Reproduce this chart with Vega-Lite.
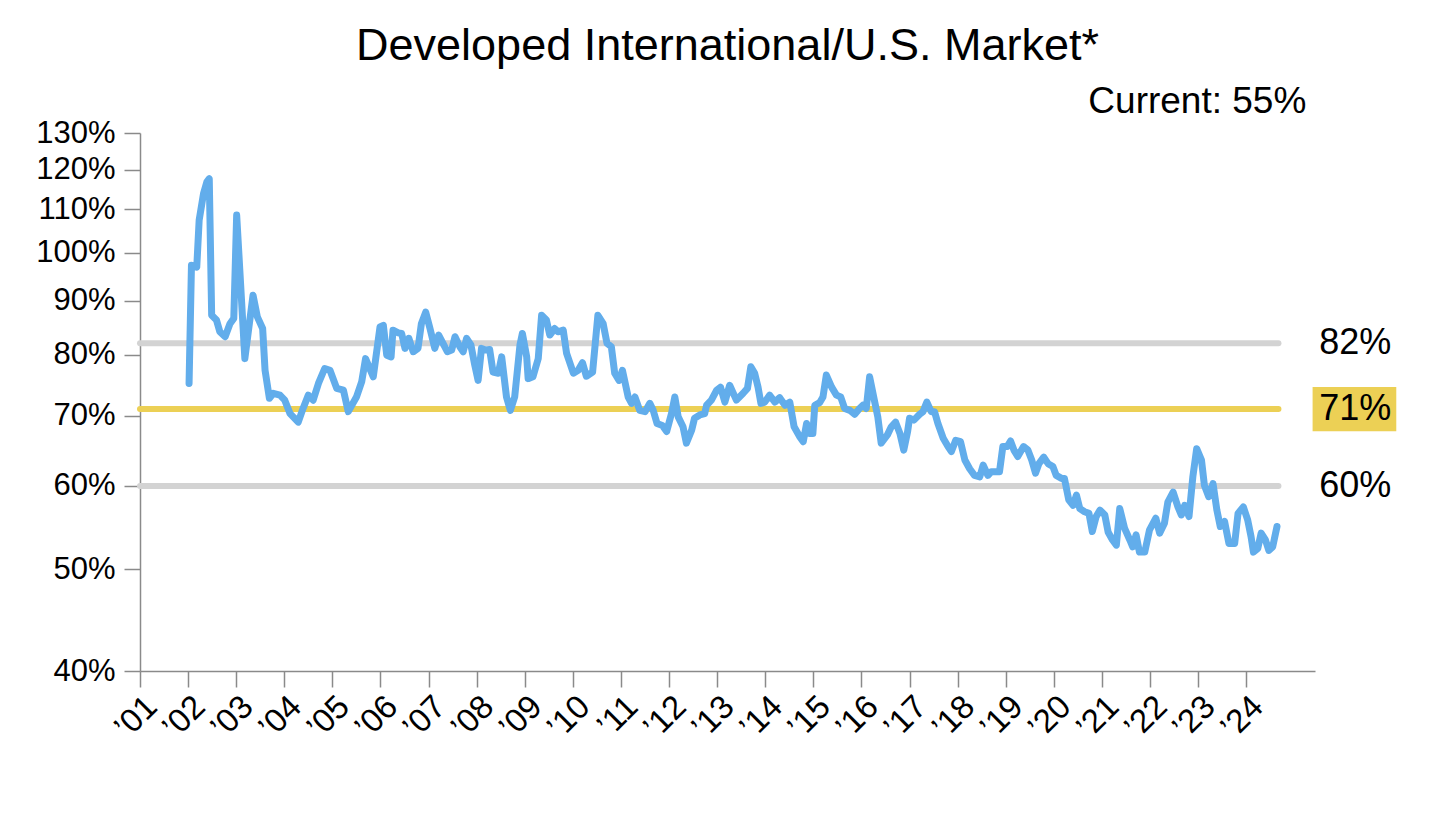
{
  "$schema": "https://vega.github.io/schema/vega-lite/v6.json",
  "width": 1175,
  "height": 538,
  "autosize": {"type": "none"},
  "padding": {"left": 140, "top": 133, "right": 127, "bottom": 145},
  "background": "white",
  "title": {
    "text": "Developed International/U.S. Market*",
    "fontSize": 45,
    "fontWeight": "normal",
    "font": "Liberation Sans",
    "color": "black",
    "anchor": "middle",
    "frame": "group",
    "baseline": "alphabetic",
    "offset": -22
  },
  "config": {"view": {"stroke": null}, "font": "Liberation Sans"},
  "datasets": {
    "series": [
      {"year": 2002.02, "ratio": 0.751}, {"year": 2002.07, "ratio": 0.973}, {"year": 2002.18, "ratio": 0.969},
      {"year": 2002.23, "ratio": 1.074}, {"year": 2002.32, "ratio": 1.138}, {"year": 2002.39, "ratio": 1.168},
      {"year": 2002.44, "ratio": 1.176}, {"year": 2002.49, "ratio": 0.872}, {"year": 2002.59, "ratio": 0.863},
      {"year": 2002.66, "ratio": 0.841}, {"year": 2002.77, "ratio": 0.832}, {"year": 2002.87, "ratio": 0.856},
      {"year": 2002.95, "ratio": 0.866}, {"year": 2003.01, "ratio": 1.086}, {"year": 2003.18, "ratio": 0.793},
      {"year": 2003.35, "ratio": 0.911}, {"year": 2003.44, "ratio": 0.869}, {"year": 2003.55, "ratio": 0.847},
      {"year": 2003.60, "ratio": 0.773}, {"year": 2003.69, "ratio": 0.727}, {"year": 2003.77, "ratio": 0.735},
      {"year": 2003.91, "ratio": 0.732}, {"year": 2004.01, "ratio": 0.724}, {"year": 2004.12, "ratio": 0.703},
      {"year": 2004.29, "ratio": 0.690}, {"year": 2004.39, "ratio": 0.711}, {"year": 2004.50, "ratio": 0.732},
      {"year": 2004.60, "ratio": 0.724}, {"year": 2004.71, "ratio": 0.751}, {"year": 2004.84, "ratio": 0.776},
      {"year": 2004.95, "ratio": 0.773}, {"year": 2005.09, "ratio": 0.743}, {"year": 2005.23, "ratio": 0.740},
      {"year": 2005.33, "ratio": 0.706}, {"year": 2005.50, "ratio": 0.729}, {"year": 2005.61, "ratio": 0.754},
      {"year": 2005.69, "ratio": 0.793}, {"year": 2005.85, "ratio": 0.762}, {"year": 2005.99, "ratio": 0.850},
      {"year": 2006.06, "ratio": 0.853}, {"year": 2006.13, "ratio": 0.799}, {"year": 2006.22, "ratio": 0.796},
      {"year": 2006.26, "ratio": 0.844}, {"year": 2006.37, "ratio": 0.839}, {"year": 2006.44, "ratio": 0.838},
      {"year": 2006.51, "ratio": 0.811}, {"year": 2006.59, "ratio": 0.829}, {"year": 2006.68, "ratio": 0.805},
      {"year": 2006.78, "ratio": 0.811}, {"year": 2006.85, "ratio": 0.856}, {"year": 2006.94, "ratio": 0.878},
      {"year": 2007.03, "ratio": 0.847}, {"year": 2007.13, "ratio": 0.811}, {"year": 2007.21, "ratio": 0.835},
      {"year": 2007.30, "ratio": 0.820}, {"year": 2007.39, "ratio": 0.805}, {"year": 2007.48, "ratio": 0.808},
      {"year": 2007.55, "ratio": 0.832}, {"year": 2007.65, "ratio": 0.814}, {"year": 2007.72, "ratio": 0.805},
      {"year": 2007.79, "ratio": 0.829}, {"year": 2007.88, "ratio": 0.817}, {"year": 2007.96, "ratio": 0.782},
      {"year": 2008.03, "ratio": 0.756}, {"year": 2008.10, "ratio": 0.811}, {"year": 2008.18, "ratio": 0.808},
      {"year": 2008.27, "ratio": 0.809}, {"year": 2008.34, "ratio": 0.770}, {"year": 2008.45, "ratio": 0.768},
      {"year": 2008.52, "ratio": 0.796}, {"year": 2008.62, "ratio": 0.729}, {"year": 2008.70, "ratio": 0.708},
      {"year": 2008.79, "ratio": 0.729}, {"year": 2008.90, "ratio": 0.817}, {"year": 2008.95, "ratio": 0.838},
      {"year": 2009.04, "ratio": 0.796}, {"year": 2009.07, "ratio": 0.759}, {"year": 2009.17, "ratio": 0.762},
      {"year": 2009.28, "ratio": 0.793}, {"year": 2009.35, "ratio": 0.872}, {"year": 2009.45, "ratio": 0.863},
      {"year": 2009.52, "ratio": 0.835}, {"year": 2009.62, "ratio": 0.847}, {"year": 2009.69, "ratio": 0.841},
      {"year": 2009.80, "ratio": 0.844}, {"year": 2009.87, "ratio": 0.802}, {"year": 2010.01, "ratio": 0.768},
      {"year": 2010.11, "ratio": 0.773}, {"year": 2010.20, "ratio": 0.786}, {"year": 2010.28, "ratio": 0.763},
      {"year": 2010.41, "ratio": 0.770}, {"year": 2010.52, "ratio": 0.872}, {"year": 2010.63, "ratio": 0.856},
      {"year": 2010.71, "ratio": 0.820}, {"year": 2010.80, "ratio": 0.814}, {"year": 2010.87, "ratio": 0.768},
      {"year": 2010.96, "ratio": 0.756}, {"year": 2011.03, "ratio": 0.773}, {"year": 2011.15, "ratio": 0.729},
      {"year": 2011.22, "ratio": 0.719}, {"year": 2011.29, "ratio": 0.729}, {"year": 2011.39, "ratio": 0.708},
      {"year": 2011.50, "ratio": 0.706}, {"year": 2011.60, "ratio": 0.719}, {"year": 2011.67, "ratio": 0.708},
      {"year": 2011.75, "ratio": 0.688}, {"year": 2011.86, "ratio": 0.685}, {"year": 2011.95, "ratio": 0.676},
      {"year": 2012.05, "ratio": 0.703}, {"year": 2012.12, "ratio": 0.729}, {"year": 2012.19, "ratio": 0.698},
      {"year": 2012.29, "ratio": 0.683}, {"year": 2012.36, "ratio": 0.659}, {"year": 2012.47, "ratio": 0.678},
      {"year": 2012.53, "ratio": 0.696}, {"year": 2012.64, "ratio": 0.701}, {"year": 2012.74, "ratio": 0.703},
      {"year": 2012.78, "ratio": 0.716}, {"year": 2012.88, "ratio": 0.724}, {"year": 2012.99, "ratio": 0.740},
      {"year": 2013.07, "ratio": 0.745}, {"year": 2013.16, "ratio": 0.721}, {"year": 2013.26, "ratio": 0.748},
      {"year": 2013.40, "ratio": 0.724}, {"year": 2013.54, "ratio": 0.735}, {"year": 2013.63, "ratio": 0.743},
      {"year": 2013.70, "ratio": 0.779}, {"year": 2013.78, "ratio": 0.768}, {"year": 2013.85, "ratio": 0.745},
      {"year": 2013.91, "ratio": 0.719}, {"year": 2013.99, "ratio": 0.721}, {"year": 2014.09, "ratio": 0.732},
      {"year": 2014.20, "ratio": 0.721}, {"year": 2014.30, "ratio": 0.728}, {"year": 2014.41, "ratio": 0.716},
      {"year": 2014.51, "ratio": 0.721}, {"year": 2014.60, "ratio": 0.683}, {"year": 2014.72, "ratio": 0.668},
      {"year": 2014.79, "ratio": 0.661}, {"year": 2014.86, "ratio": 0.688}, {"year": 2014.92, "ratio": 0.673},
      {"year": 2014.99, "ratio": 0.673}, {"year": 2015.03, "ratio": 0.716}, {"year": 2015.13, "ratio": 0.720},
      {"year": 2015.20, "ratio": 0.729}, {"year": 2015.27, "ratio": 0.765}, {"year": 2015.38, "ratio": 0.745},
      {"year": 2015.48, "ratio": 0.732}, {"year": 2015.57, "ratio": 0.729}, {"year": 2015.65, "ratio": 0.711},
      {"year": 2015.76, "ratio": 0.708}, {"year": 2015.86, "ratio": 0.702}, {"year": 2015.96, "ratio": 0.711},
      {"year": 2016.03, "ratio": 0.716}, {"year": 2016.10, "ratio": 0.711}, {"year": 2016.17, "ratio": 0.762},
      {"year": 2016.26, "ratio": 0.727}, {"year": 2016.34, "ratio": 0.698}, {"year": 2016.41, "ratio": 0.659},
      {"year": 2016.54, "ratio": 0.671}, {"year": 2016.62, "ratio": 0.683}, {"year": 2016.71, "ratio": 0.690},
      {"year": 2016.80, "ratio": 0.673}, {"year": 2016.88, "ratio": 0.649}, {"year": 2016.96, "ratio": 0.676},
      {"year": 2017.00, "ratio": 0.696}, {"year": 2017.09, "ratio": 0.693}, {"year": 2017.21, "ratio": 0.702},
      {"year": 2017.28, "ratio": 0.706}, {"year": 2017.36, "ratio": 0.721}, {"year": 2017.45, "ratio": 0.706},
      {"year": 2017.52, "ratio": 0.706}, {"year": 2017.59, "ratio": 0.688}, {"year": 2017.70, "ratio": 0.666},
      {"year": 2017.80, "ratio": 0.654}, {"year": 2017.87, "ratio": 0.647}, {"year": 2017.96, "ratio": 0.663},
      {"year": 2018.06, "ratio": 0.661}, {"year": 2018.15, "ratio": 0.635}, {"year": 2018.25, "ratio": 0.623},
      {"year": 2018.35, "ratio": 0.614}, {"year": 2018.46, "ratio": 0.612}, {"year": 2018.53, "ratio": 0.628},
      {"year": 2018.63, "ratio": 0.614}, {"year": 2018.70, "ratio": 0.619}, {"year": 2018.87, "ratio": 0.619},
      {"year": 2018.94, "ratio": 0.654}, {"year": 2019.03, "ratio": 0.654}, {"year": 2019.10, "ratio": 0.662},
      {"year": 2019.17, "ratio": 0.649}, {"year": 2019.25, "ratio": 0.640}, {"year": 2019.37, "ratio": 0.654},
      {"year": 2019.46, "ratio": 0.649}, {"year": 2019.54, "ratio": 0.635}, {"year": 2019.62, "ratio": 0.617},
      {"year": 2019.69, "ratio": 0.630}, {"year": 2019.79, "ratio": 0.639}, {"year": 2019.88, "ratio": 0.630},
      {"year": 2019.98, "ratio": 0.626}, {"year": 2020.05, "ratio": 0.614}, {"year": 2020.16, "ratio": 0.610},
      {"year": 2020.22, "ratio": 0.610}, {"year": 2020.31, "ratio": 0.582}, {"year": 2020.40, "ratio": 0.575},
      {"year": 2020.47, "ratio": 0.588}, {"year": 2020.54, "ratio": 0.571}, {"year": 2020.64, "ratio": 0.567},
      {"year": 2020.73, "ratio": 0.565}, {"year": 2020.80, "ratio": 0.543}, {"year": 2020.88, "ratio": 0.561},
      {"year": 2020.96, "ratio": 0.569}, {"year": 2021.06, "ratio": 0.563}, {"year": 2021.13, "ratio": 0.542},
      {"year": 2021.22, "ratio": 0.533}, {"year": 2021.30, "ratio": 0.527}, {"year": 2021.37, "ratio": 0.571},
      {"year": 2021.47, "ratio": 0.547}, {"year": 2021.58, "ratio": 0.533}, {"year": 2021.64, "ratio": 0.525},
      {"year": 2021.71, "ratio": 0.539}, {"year": 2021.78, "ratio": 0.519}, {"year": 2021.89, "ratio": 0.519},
      {"year": 2021.99, "ratio": 0.545}, {"year": 2022.12, "ratio": 0.559}, {"year": 2022.20, "ratio": 0.541},
      {"year": 2022.30, "ratio": 0.553}, {"year": 2022.37, "ratio": 0.579}, {"year": 2022.48, "ratio": 0.592},
      {"year": 2022.58, "ratio": 0.573}, {"year": 2022.65, "ratio": 0.563}, {"year": 2022.72, "ratio": 0.575},
      {"year": 2022.81, "ratio": 0.561}, {"year": 2022.89, "ratio": 0.612}, {"year": 2022.97, "ratio": 0.651},
      {"year": 2023.07, "ratio": 0.635}, {"year": 2023.13, "ratio": 0.601}, {"year": 2023.22, "ratio": 0.586},
      {"year": 2023.31, "ratio": 0.603}, {"year": 2023.39, "ratio": 0.569}, {"year": 2023.46, "ratio": 0.549},
      {"year": 2023.55, "ratio": 0.555}, {"year": 2023.64, "ratio": 0.529}, {"year": 2023.76, "ratio": 0.529},
      {"year": 2023.83, "ratio": 0.565}, {"year": 2023.94, "ratio": 0.573}, {"year": 2024.03, "ratio": 0.557},
      {"year": 2024.10, "ratio": 0.537}, {"year": 2024.15, "ratio": 0.519}, {"year": 2024.24, "ratio": 0.523},
      {"year": 2024.31, "ratio": 0.541}, {"year": 2024.40, "ratio": 0.533}, {"year": 2024.47, "ratio": 0.521},
      {"year": 2024.55, "ratio": 0.525}, {"year": 2024.64, "ratio": 0.549}
    ],
    "bands": [
      {"level": 0.82, "label": "82%", "kind": "band"},
      {"level": 0.71, "label": "71%", "kind": "average"},
      {"level": 0.60, "label": "60%", "kind": "band"}
    ]
  },
  "layer": [
    {
      "data": {"name": "bands"},
      "transform": [{"filter": "datum.kind === 'average'"}],
      "mark": {"type": "rect", "color": "#ecd055"},
      "encoding": {
        "x": {"datum": 2025.38, "type": "quantitative", "scale": {"domain": [2001, 2025.43], "nice": false, "zero": false}},
        "x2": {"datum": 2027.12},
        "y": {"datum": 0.745, "type": "quantitative", "scale": {"type": "log", "domain": [0.4, 1.3]}},
        "y2": {"datum": 0.6765}
      }
    },
    {
      "data": {"name": "bands"},
      "mark": {"type": "rule", "strokeWidth": 6, "strokeCap": "round"},
      "encoding": {
        "x": {"datum": 2001, "type": "quantitative", "scale": {"domain": [2001, 2025.43], "nice": false, "zero": false}},
        "x2": {"datum": 2024.67},
        "y": {"field": "level", "type": "quantitative", "title": null, "scale": {"type": "log", "domain": [0.4, 1.3]}},
        "color": {"field": "kind", "type": "nominal", "scale": {"domain": ["band", "average"], "range": ["#d3d3d3", "#ecd055"]}, "legend": null}
      }
    },
    {
      "data": {"name": "series"},
      "mark": {"type": "line", "color": "#62adeb", "strokeWidth": 7, "strokeJoin": "round", "strokeCap": "round"},
      "encoding": {
        "x": {
          "field": "year", "type": "quantitative", "title": null,
          "scale": {"domain": [2001, 2025.43], "nice": false, "zero": false},
          "axis": {
            "values": [2001,2001.25,2001.5,2001.75,2002,2002.25,2002.5,2002.75,2003,2003.25,2003.5,2003.75,2004,2004.25,2004.5,2004.75,2005,2005.25,2005.5,2005.75,2006,2006.25,2006.5,2006.75,2007,2007.25,2007.5,2007.75,2008,2008.25,2008.5,2008.75,2009,2009.25,2009.5,2009.75,2010,2010.25,2010.5,2010.75,2011,2011.25,2011.5,2011.75,2012,2012.25,2012.5,2012.75,2013,2013.25,2013.5,2013.75,2014,2014.25,2014.5,2014.75,2015,2015.25,2015.5,2015.75,2016,2016.25,2016.5,2016.75,2017,2017.25,2017.5,2017.75,2018,2018.25,2018.5,2018.75,2019,2019.25,2019.5,2019.75,2020,2020.25,2020.5,2020.75,2021,2021.25,2021.5,2021.75,2022,2022.25,2022.5,2022.75,2023,2023.25,2023.5,2023.75,2024,2024.25,2024.5],
            "labelExpr": "datum.value % 1 === 0 ? '\u2019' + slice(toString(datum.value), 2) : ''",
            "labelAngle": -45,
            "labelFontSize": 33,
            "labelFont": "Liberation Sans",
            "labelColor": "black",
            "labelOverlap": false,
            "labelFlush": false,
            "labelBound": false,
            "labelPadding": 3,
            "tickSize": {"condition": {"test": "datum.value % 1 === 0", "value": 16}, "value": 8},
            "tickColor": "#8a8a8a",
            "tickWidth": 1.5,
            "domainColor": "#8a8a8a",
            "domainWidth": 1.5,
            "grid": false
          }
        },
        "y": {
          "field": "ratio", "type": "quantitative", "title": null,
          "scale": {"type": "log", "domain": [0.4, 1.3]},
          "axis": {
            "values": [0.4, 0.5, 0.6, 0.7, 0.8, 0.9, 1.0, 1.1, 1.2, 1.3],
            "format": ".0%",
            "labelFontSize": 31,
            "labelFont": "Liberation Sans",
            "labelColor": "black",
            "labelOverlap": false,
            "labelPadding": 9,
            "tickSize": 16,
            "tickColor": "#8a8a8a",
            "tickWidth": 1.5,
            "domainColor": "#8a8a8a",
            "domainWidth": 1.5,
            "grid": false
          }
        }
      }
    },
    {
      "data": {"name": "bands"},
      "mark": {"type": "text", "align": "left", "baseline": "middle", "fontSize": 36, "font": "Liberation Sans", "color": "black"},
      "encoding": {
        "x": {"datum": 2025.52, "type": "quantitative", "scale": {"domain": [2001, 2025.43], "nice": false, "zero": false}},
        "y": {"field": "level", "type": "quantitative", "title": null, "scale": {"type": "log", "domain": [0.4, 1.3]}},
        "text": {"field": "label"}
      }
    },
    {
      "data": {"values": [{}]},
      "mark": {"type": "text", "align": "right", "baseline": "middle", "fontSize": 37, "font": "Liberation Sans", "color": "black", "text": "Current: 55%"},
      "encoding": {
        "x": {"datum": 2025.25, "type": "quantitative", "scale": {"domain": [2001, 2025.43], "nice": false, "zero": false}},
        "y": {"datum": 1.39, "type": "quantitative", "scale": {"type": "log", "domain": [0.4, 1.3]}}
      }
    }
  ]
}
